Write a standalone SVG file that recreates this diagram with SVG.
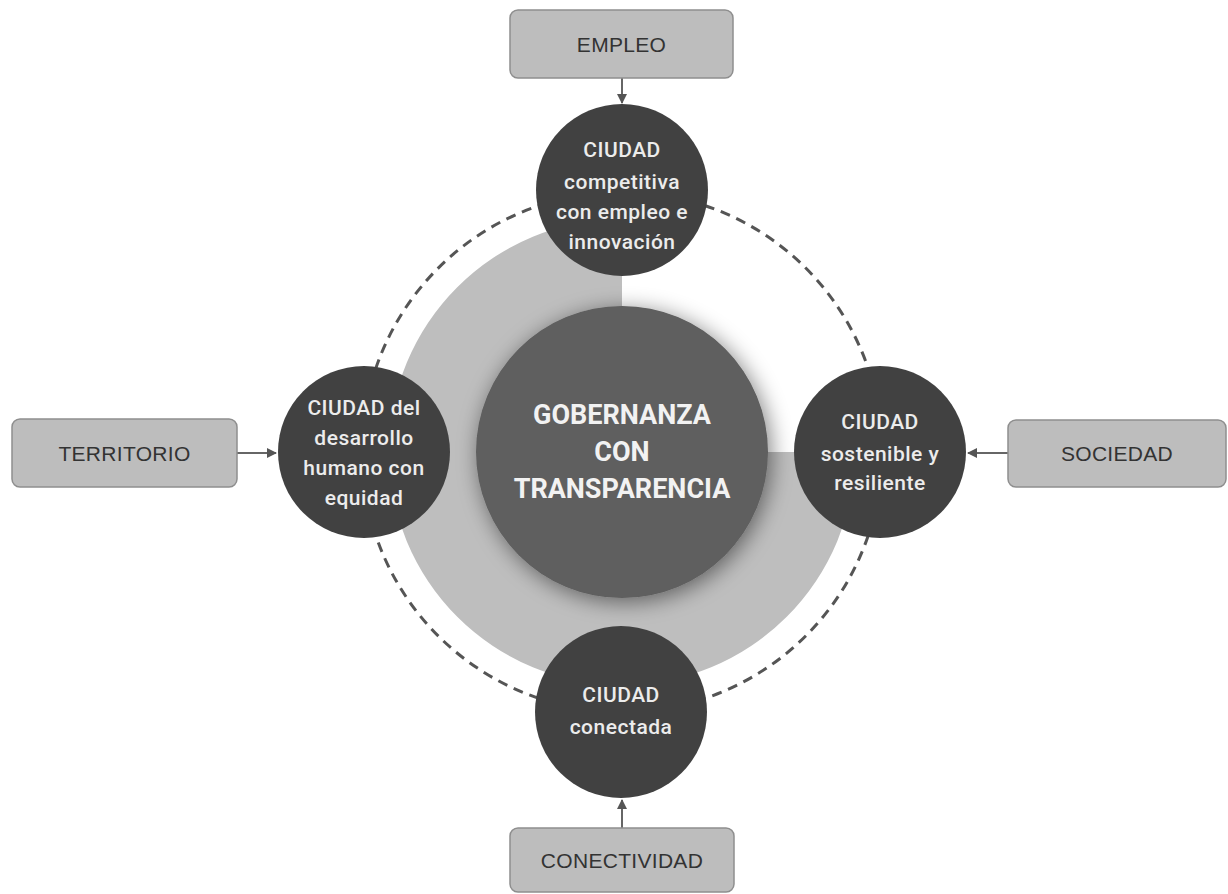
<svg xmlns="http://www.w3.org/2000/svg" width="1228" height="894" viewBox="0 0 1228 894">
<style>
.box{fill:#bdbdbd;stroke:#8e8e8e;stroke-width:1.5}
.boxt{font-family:"Liberation Sans",Arial,sans-serif;font-size:21px;fill:#333;text-anchor:middle;letter-spacing:0.3px}
.node{fill:#414141}
.nt{font-family:Roboto,"Liberation Sans",sans-serif;font-size:21px;font-weight:500;fill:#ececec;text-anchor:middle;letter-spacing:0.5px}
.ct{font-family:Roboto,"Liberation Sans",sans-serif;font-size:27px;font-weight:700;fill:#f2f2f2;text-anchor:middle}
.conn{stroke:#666;stroke-width:2;fill:none}
.dash{stroke:#555;stroke-width:3;fill:none;stroke-dasharray:10 7}
</style>
<defs>
<marker id="arr" viewBox="0 0 10 10" refX="9" refY="5" markerWidth="5" markerHeight="5" orient="auto" markerUnits="strokeWidth">
<path d="M0,0 L10,5 L0,10 Z" fill="#555"/>
</marker>
<filter id="sh" x="-30%" y="-30%" width="160%" height="160%">
<feGaussianBlur in="SourceAlpha" stdDeviation="11"/>
<feOffset dx="3" dy="4" result="b"/>
<feComponentTransfer><feFuncA type="linear" slope="0.5"/></feComponentTransfer>
<feMerge><feMergeNode/><feMergeNode in="SourceGraphic"/></feMerge>
</filter>
</defs>
<rect width="1228" height="894" fill="#fff"/>
<g id="background">
<path d="M622,452 L622,219 A233,233 0 1,0 855,452 Z" fill="#bebebe"/>
<circle class="dash" cx="622" cy="452" r="260"/>
</g>
<g id="connectors">
<line class="conn" x1="622" y1="78" x2="622" y2="103" marker-end="url(#arr)"/>
<line class="conn" x1="237" y1="453" x2="276" y2="453" marker-end="url(#arr)"/>
<line class="conn" x1="1008" y1="453" x2="968" y2="453" marker-end="url(#arr)"/>
<line class="conn" x1="622" y1="828" x2="622" y2="800" marker-end="url(#arr)"/>
</g>
<g id="center">
<circle cx="622" cy="452" r="146" fill="#5e5e5e" filter="url(#sh)"/>
<text class="ct" x="622" y="424">GOBERNANZA</text>
<text class="ct" x="622" y="461">CON</text>
<text class="ct" x="622" y="498">TRANSPARENCIA</text>
</g>
<g id="node-top">
<circle class="node" cx="622" cy="190" r="86"/>
<text class="nt" x="622" y="157">CIUDAD</text>
<text class="nt" x="622" y="189">competitiva</text>
<text class="nt" x="622" y="219">con empleo e</text>
<text class="nt" x="622" y="249">innovación</text>
</g>
<g id="node-left">
<circle class="node" cx="364" cy="452" r="86"/>
<text class="nt" x="364" y="415">CIUDAD del</text>
<text class="nt" x="364" y="445">desarrollo</text>
<text class="nt" x="364" y="475">humano con</text>
<text class="nt" x="364" y="505">equidad</text>
</g>
<g id="node-right">
<circle class="node" cx="880" cy="452" r="86"/>
<text class="nt" x="880" y="429">CIUDAD</text>
<text class="nt" x="880" y="461">sostenible y</text>
<text class="nt" x="880" y="490">resiliente</text>
</g>
<g id="node-bottom">
<circle class="node" cx="621" cy="712" r="86"/>
<text class="nt" x="621" y="702">CIUDAD</text>
<text class="nt" x="621" y="734">conectada</text>
</g>
<g id="box-empleo">
<rect class="box" x="510" y="10" width="223" height="68" rx="8"/>
<text class="boxt" x="621.5" y="52">EMPLEO</text>
</g>
<g id="box-territorio">
<rect class="box" x="12" y="419" width="225" height="68" rx="8"/>
<text class="boxt" x="124.5" y="461">TERRITORIO</text>
</g>
<g id="box-sociedad">
<rect class="box" x="1008" y="420" width="218" height="67" rx="8"/>
<text class="boxt" x="1117" y="461">SOCIEDAD</text>
</g>
<g id="box-conectividad">
<rect class="box" x="510" y="828" width="224" height="64" rx="8"/>
<text class="boxt" x="622" y="868">CONECTIVIDAD</text>
</g>
</svg>
